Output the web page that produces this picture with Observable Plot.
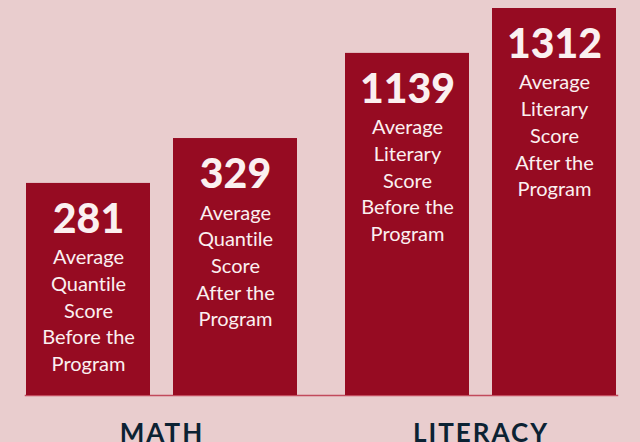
<!DOCTYPE html>
<html>
<head>
<meta charset="utf-8">
<script src="https://cdn.jsdelivr.net/npm/d3@7"></script>
<script src="https://cdn.jsdelivr.net/npm/@observablehq/plot@0.6"></script>
<style>
  html, body { margin: 0; padding: 0; background: #e9cdce; }
  #chart svg text { font-variant-ligatures: none; font-feature-settings: "liga" 0; }
  #chart svg [aria-label="fx-axis tick label"] text { letter-spacing: 2px; }
</style>
</head>
<body>
<div id="chart"></div>
<script>
const subjects = ["MATH", "MATH", "LITERACY", "LITERACY"];
const phases = ["Before", "After", "Before", "After"];
const scores = [281, 329, 1139, 1312];
// relative bar heights as drawn in the infographic (tallest = 100)
const barHeights = [54.8, 66.4, 88.4, 100];
const descriptions = [
  "Average\nQuantile\nScore\nBefore the\nProgram",
  "Average\nQuantile\nScore\nAfter the\nProgram",
  "Average\nLiterary\nScore\nBefore the\nProgram",
  "Average\nLiterary\nScore\nAfter the\nProgram"
];
const groupLabels = ["MATH", "LITERACY"];

const data = subjects.map((s, i) => ({
  subject: s, phase: phases[i], score: scores[i], height: barHeights[i], desc: descriptions[i]
}));

const bg = "#e9cdce", barColor = "#960b22", textColor = "#fbf0f0", navy = "#0c2233", ruleColor = "#c24a5c";

const chart = Plot.plot({
  width: 640,
  height: 442,
  marginTop: 8,
  marginBottom: 47,
  marginLeft: 12,
  marginRight: 6,
  style: { background: bg, fontFamily: "Lato, 'Noto Sans', sans-serif", overflow: "visible" },
  fx: { domain: groupLabels, paddingInner: 0.1442, paddingOuter: 0.047, align: 0.433, label: null, axis: null },
  x: { domain: ["Before", "After"], paddingInner: 0.1554, paddingOuter: 0, axis: null },
  y: { domain: [0, 100], axis: null },
  marks: [
    Plot.frame({ facet: "super", anchor: "bottom", stroke: ruleColor, strokeWidth: 1.5 }),
    Plot.barY(data, { fx: "subject", x: "phase", y: "height", fill: barColor }),
    Plot.text(data, {
      fx: "subject", x: "phase", y: "height", text: d => String(d.score),
      lineAnchor: "top", dy: 20, fontSize: 41, fontWeight: 900, fill: textColor
    }),
    Plot.text(data, {
      fx: "subject", x: "phase", y: "height", text: "desc",
      lineAnchor: "top", dy: 62, fontSize: 20, lineHeight: 1.335, fill: textColor
    }),
    Plot.axisFx({
      anchor: "bottom", tickSize: 0, tickPadding: 28, fontSize: 26, fontWeight: 700,
      fill: navy, label: null
    })
  ]
});

document.getElementById("chart").appendChild(chart);
</script>
</body>
</html>
